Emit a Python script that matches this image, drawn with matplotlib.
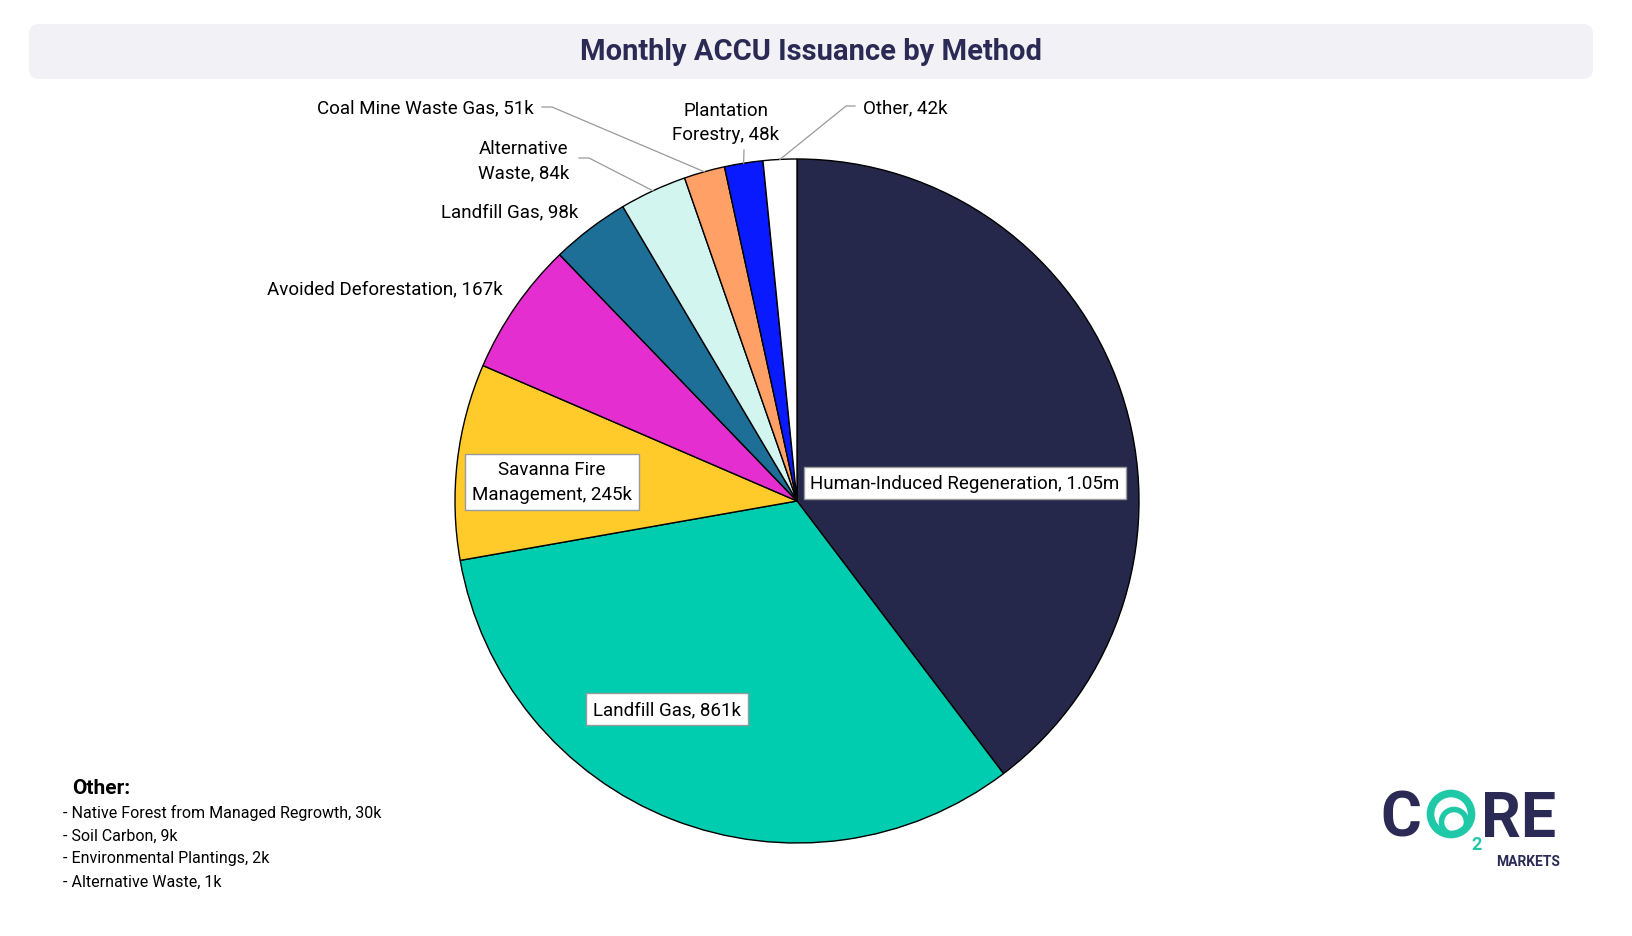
import numpy as np
import matplotlib
matplotlib.use("Agg")
import matplotlib.pyplot as plt
from matplotlib.patches import FancyBboxPatch, Circle

plt.rcParams['font.family'] = ['Roboto', 'DejaVu Sans']

W, H = 1633, 937

# data, clockwise from 12 o'clock
methods = ["Human-Induced Regeneration", "Landfill Gas", "Savanna Fire\nManagement",
           "Avoided Deforestation", "Landfill Gas", "Alternative\nWaste",
           "Coal Mine Waste Gas", "Plantation\nForestry", "Other"]
values = [1050, 861, 245, 167, 98, 84, 51, 48, 42]
value_labels = ["1.05m", "861k", "245k", "167k", "98k", "84k", "51k", "48k", "42k"]
colors = ["#25284a", "#00ccb0", "#ffcb2b", "#e52ecf", "#1d6f97",
          "#d3f5f0", "#ffa066", "#0a1aff", "#ffffff"]

other_items = ["Native Forest from Managed Regrowth, 30k", "Soil Carbon, 9k",
               "Environmental Plantings, 2k", "Alternative Waste, 1k"]

NAVY = "#2b2a55"


def Y(y):
    # image y (top down) -> axes y
    return H - y


fig = plt.figure(figsize=(W / 100, H / 100), dpi=100)
ax = fig.add_axes([0, 0, 1, 1])

cx, cy, r = 797, Y(502), 342
wedges, _ = ax.pie(values, colors=colors, startangle=90, counterclock=False,
                   center=(cx, cy), radius=r,
                   wedgeprops=dict(edgecolor="black", linewidth=1))
ax.set_xlim(0, W)
ax.set_ylim(0, H)
ax.axis("off")


def edge_point(i):
    a = np.deg2rad((wedges[i].theta1 + wedges[i].theta2) / 2)
    return cx + r * np.cos(a), cy + r * np.sin(a)


# title bar
ax.add_patch(FancyBboxPatch((29, Y(80)), 1564, 55, boxstyle="round,pad=0,rounding_size=10",
                            fc="#f2f1f5", ec="none"))
ax.text(811, Y(52), "Monthly ACCU Issuance by Method", ha="center", va="center",
        fontsize=21, fontweight="bold", color=NAVY)

labels = [f"{m}, {v}" for m, v in zip(methods, value_labels)]
fs = 13.5
box = dict(boxstyle="square,pad=0.35", fc="white", ec="#9a9a9a", lw=1)

# boxed labels inside big slices
ax.text(965, Y(484), labels[0], ha="center", va="center", fontsize=fs, bbox=box)
ax.text(667, Y(710), labels[1], ha="center", va="center", fontsize=fs, bbox=box)
ax.text(552, Y(483), labels[2], ha="center", va="center", fontsize=fs, bbox=box,
        linespacing=1.5)

# outside labels
ax.text(503, Y(289), labels[3], ha="right", va="center", fontsize=fs)
ax.text(578, Y(212), labels[4], ha="right", va="center", fontsize=fs)
ax.text(524, Y(161), labels[5], ha="center", va="center", fontsize=fs, linespacing=1.5)
ax.text(534, Y(108), labels[6], ha="right", va="center", fontsize=fs)
ax.text(726, Y(123), labels[7], ha="center", va="center", fontsize=fs, linespacing=1.5)
ax.text(863, Y(108), labels[8], ha="left", va="center", fontsize=fs)

# leader lines
leaders = {5: [(579, 159), (589, 159)],
           6: [(542, 108), (552, 108)],
           7: [(744, 151)],
           8: [(855, 107), (846, 107)]}
for i, pts in leaders.items():
    xs = [p[0] for p in pts]
    ys = [Y(p[1]) for p in pts]
    ex, ey = edge_point(i)
    xs.append(ex)
    ys.append(ey)
    ax.plot(xs, ys, color="#9a9a9a", lw=0.9)

# other breakdown
ax.text(72, Y(789), "Other:", ha="left", va="center", fontsize=15, fontweight="bold")
for k, item in enumerate(other_items):
    ax.text(63, Y(813 + 23 * k), "- " + item, ha="left", va="center", fontsize=11.5)

# logo
TEAL = "#1fc9a8"
ax.text(1380, Y(837), "C", ha="left", va="baseline", fontsize=45, fontweight="bold", color=NAVY)
ax.add_patch(Circle((1451, Y(815)), 20.5, fill=False, ec=TEAL, lw=5.5))
ax.add_patch(Circle((1454, Y(823)), 12.5, fill=False, ec=TEAL, lw=4))
ax.text(1477, Y(845), "2", ha="center", va="center", fontsize=13, fontweight="bold", color=TEAL)
ax.text(1481, Y(837), "RE", ha="left", va="baseline", fontsize=45, fontweight="bold", color=NAVY)
ax.text(1560, Y(862), "MARKETS", ha="right", va="center", fontsize=10, fontweight="bold", color=NAVY)

fig.savefig("out.png", dpi=100)
